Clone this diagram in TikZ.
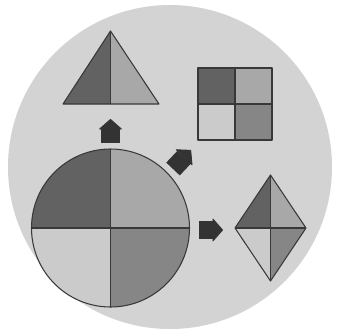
\documentclass[tikz,border=0pt]{standalone}
\usetikzlibrary{arrows.meta,calc}
\definecolor{discbg}{HTML}{D3D3D3}
\definecolor{qdark}{HTML}{626262}
\definecolor{qlight}{HTML}{A8A8A8}
\definecolor{qpale}{HTML}{CBCBCB}
\definecolor{qmid}{HTML}{868686}
\definecolor{edgeink}{HTML}{383838}
\definecolor{arrink}{HTML}{333333}
\tikzset{
  part/.style={draw=edgeink,line width=1.5pt,line join=round},
  blockarr/.style={draw=arrink,line width=9.3mm,
                   -{Triangle[length=5.3mm,width=12mm,round,line width=1.2pt]}}
}

\begin{document}
\begin{tikzpicture}[x=0.5mm,y=-0.5mm]
    \path[use as bounding box] (0,0) rectangle (338,335);

    % background disc
    \fill[discbg] (170,167) circle (162);

    % big circle in quarters
    \coordinate (wheel) at (110.5,228);
    \begin{scope}
      \clip (wheel) circle (79);
      \fill[qdark]  (wheel) rectangle ++(-80,-80);
      \fill[qlight] (wheel) rectangle ++(80,-80);
      \fill[qpale]  (wheel) rectangle ++(-80,80);
      \fill[qmid]   (wheel) rectangle ++(80,80);
    \end{scope}
    \draw[part] (wheel) circle (79);
    \draw[part] ($(wheel)+(-79,0)$) -- ($(wheel)+(79,0)$);
    \draw[part] ($(wheel)+(0,-79)$) -- ($(wheel)+(0,79)$);

    % triangle in halves
    \coordinate (apex) at (110.5,31);
    \coordinate (tribase) at (110.5,104);
    \fill[qdark]  (apex) -- (63,104) -- (tribase) -- cycle;
    \fill[qlight] (apex) -- (159,104) -- (tribase) -- cycle;
    \draw[part] (apex) -- (63,104) -- (159,104) -- cycle;
    \draw[part] (apex) -- (tribase);

    % square in quarters
    \coordinate (box) at (235,104);
    \fill[qdark]  (box) rectangle ++(-37,-36);
    \fill[qlight] (box) rectangle ++(37,-36);
    \fill[qpale]  (box) rectangle ++(-37,36);
    \fill[qmid]   (box) rectangle ++(37,36);
    \draw[part] ($(box)+(-37,-36)$) rectangle ($(box)+(37,36)$);
    \draw[part] ($(box)+(-37,0)$) -- ($(box)+(37,0)$);
    \draw[part] ($(box)+(0,-36)$) -- ($(box)+(0,36)$);

    % diamond in quarters
    \coordinate (gem) at (270.5,228);
    \fill[qdark]  (gem) -- (270.5,175) -- (235,228) -- cycle;
    \fill[qlight] (gem) -- (270.5,175) -- (306,228) -- cycle;
    \fill[qpale]  (gem) -- (270.5,281) -- (235,228) -- cycle;
    \fill[qmid]   (gem) -- (270.5,281) -- (306,228) -- cycle;
    \draw[part] (270.5,175) -- (306,228) -- (270.5,281) -- (235,228) -- cycle;
    \draw[part] (235,228) -- (306,228);
    \draw[part] (270.5,175) -- (270.5,281);

    % block arrows
    \coordinate (upfrom) at (110.5,143);
    \coordinate (upto) at (110.5,119);
    \coordinate (diagfrom) at (173,169);
    \coordinate (diagto) at (191,150);
    \coordinate (rightfrom) at (199,230);
    \coordinate (rightto) at (223,230);
    \draw[blockarr] (upfrom) -- (upto);
    \draw[blockarr] (diagfrom) -- (diagto);
    \draw[blockarr] (rightfrom) -- (rightto);
\end{tikzpicture}
\end{document}
